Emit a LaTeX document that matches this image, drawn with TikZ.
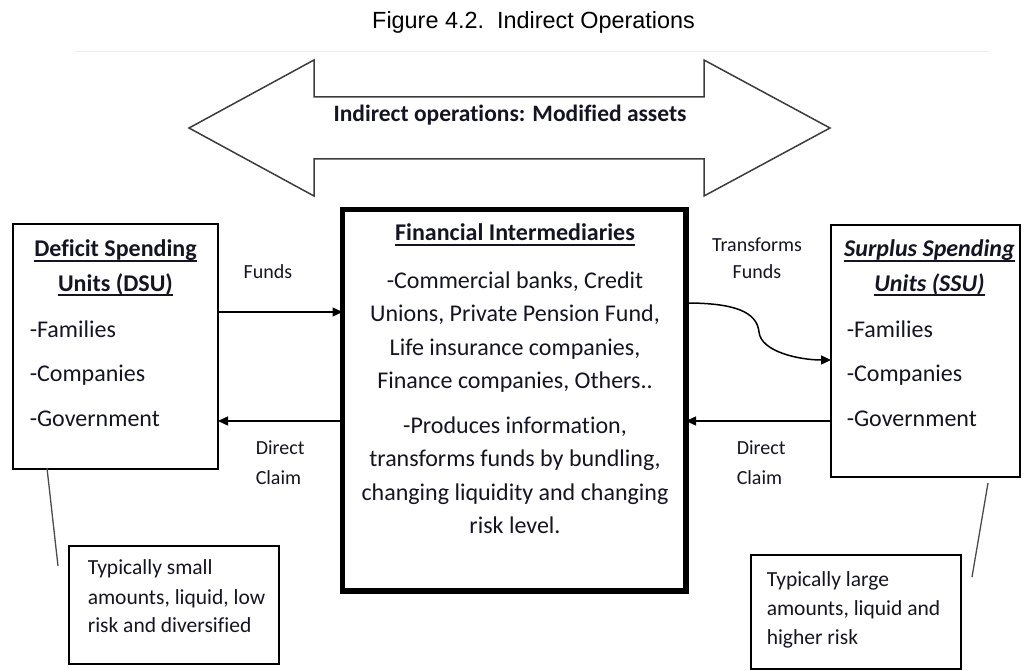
\documentclass[tikz,border=0pt]{standalone}
\usepackage{fontspec}
\setmainfont{Carlito}[Ligatures=NoCommon]
\newfontfamily\captionfont{Liberation Sans}
\usetikzlibrary{calc}
\usetikzlibrary{arrows.meta}

\definecolor{ink}{RGB}{20,20,35}
\definecolor{arrowgray}{RGB}{60,60,60}
\definecolor{rulegray}{RGB}{230,238,247}
\definecolor{calloutgray}{RGB}{75,75,75}

% heading underline, a bit heavier than \underline
\newsavebox{\ulbox}
\newcommand*{\ulhead}[1]{\sbox{\ulbox}{#1}\rlap{\rule[-4.6pt]{\wd\ulbox}{1.3pt}}\usebox{\ulbox}}

\tikzset{
    unitbox/.style  = {draw, line width = 1.5pt, inner sep = 0pt, outer sep = 0pt, anchor = north west},
    notebox/.style  = {draw, line width = 1.3pt, inner sep = 0pt, outer sep = 0pt, anchor = north west},
    txt/.style      = {inner sep = 0pt, text = ink, font = \fontsize{24}{24}\selectfont},
    headtxt/.style  = {txt, anchor = base, font = \bfseries\fontsize{24}{24}\selectfont},
    lbl/.style      = {inner sep = 0pt, text = ink, font = \fontsize{20}{20}\selectfont},
    notetxt/.style  = {inner sep = 0pt, text = ink, anchor = base west, font = \fontsize{21.5}{21.5}\selectfont},
}

\begin{document}
\begin{tikzpicture}[x = 1pt, y = -1pt, line width = 1.5pt,
                    >={Triangle[length = 10pt, width = 9pt]}]

\useasboundingbox (0,0) rectangle (1023,671);

\pgfmathsetmacro{\tipL}{189}
\pgfmathsetmacro{\tipR}{830}
\pgfmathsetmacro{\backL}{314}
\pgfmathsetmacro{\backR}{704}
\pgfmathsetmacro{\midY}{128}
\pgfmathsetmacro{\shaft}{31}
\pgfmathsetmacro{\head}{68}

% title and rule
\node[inner sep = 0pt, anchor = base, font = \captionfont\fontsize{23.4}{23.4}\selectfont]
    (title) at (533.5,29) {Figure 4.2.\ \ Indirect Operations};
\coordinate (ruleL) at (75,52);
\coordinate (ruleR) at (988,52);
\draw[rulegray, line width = 1pt] (ruleL) -- (ruleR);

% the big double arrow
\draw[arrowgray, line join = miter]
    (\tipL,\midY) -- (\backL,\midY-\head) -- (\backL,\midY-\shaft)
    -- (\backR,\midY-\shaft) -- (\backR,\midY-\head) -- (\tipR,\midY)
    -- (\backR,\midY+\head) -- (\backR,\midY+\shaft)
    -- (\backL,\midY+\shaft) -- (\backL,\midY+\head) -- cycle;
\node[txt, anchor = base, font = \bfseries\fontsize{23.5}{23.5}\selectfont]
    (ops) at (510,122) {Indirect operations: Modified assets};

% boxes
\node[unitbox, minimum width = 205pt, minimum height = 245pt] (dsu) at (13,224) {};
\node[unitbox, line width = 5.5pt, minimum width = 343.5pt, minimum height = 381.5pt] (fin) at (342.5,209.5) {};
\node[unitbox, minimum width = 189pt, minimum height = 252pt] (ssu) at (831,225) {};
\node[notebox, minimum width = 210pt, minimum height = 118pt] (dsunote) at (69,546) {};
\node[notebox, minimum width = 210pt, minimum height = 114pt] (ssunote) at (751,555) {};

% headings
\node[headtxt] (dsuh1) at (115.5,257) {\ulhead{Deficit Spending}};
\node[headtxt] (dsuh2) at (115.5,291) {\ulhead{Units (DSU)}};
\node[headtxt] (ssuh1) at (929.5,257) {\ulhead{\itshape Surplus Spending}};
\node[headtxt] (ssuh2) at (929.5,291) {\ulhead{\itshape Units (SSU)}};
\node[headtxt] (finh)  at (515,241)   {\ulhead{Financial Intermediaries}};

% unit members
\foreach \NUM/\BASE/\TEXT in {1/337/-Families, 2/381/-Companies, 3/426/-Government}{
    \node[txt, anchor = base west] (dsu-\NUM) at (29,\BASE)  {\TEXT};
    \node[txt, anchor = base west] (ssu-\NUM) at (846,\BASE) {\TEXT};
    };

% intermediaries
\foreach \NUM/\BASE/\TEXT in {
                1/288.0/{-Commercial banks, Credit},
                2/321.5/{Unions, Private Pension Fund,},
                3/355.0/{Life insurance companies,},
                4/388.5/{Finance companies, Others..},
                5/433.0/{-Produces information,},
                6/466.5/{transforms funds by bundling,},
                7/500.0/{changing liquidity and changing},
                8/533.5/{risk level.}}{
    \node[txt, anchor = base] (fin-\NUM) at (515,\BASE) {\TEXT};
    };

% flows
\draw[->] (dsu.east |- 0,312) -- (fin.west |- 0,312);
\draw[->] (fin.west |- 0,421) -- (dsu.east |- 0,421);
\draw[->] (ssu.west |- 0,421) -- (fin.east |- 0,421);
\draw[->] (fin.east |- 0,303) .. controls (735,303) and (757,312) .. (759,332)
                              .. controls (761,352) and (800,360) .. (ssu.west |- 0,360);

\node[lbl, anchor = base]      (funds)  at (268,278) {Funds};
\node[lbl, anchor = base]      (trans1) at (757,252) {Transforms};
\node[lbl, anchor = base]      (trans2) at (757,278) {Funds};
\node[lbl, anchor = base west] (claimL1) at (255,454) {Direct};
\node[lbl, anchor = base west] (claimL2) at (255,484) {Claim};
\node[lbl, anchor = base west] (claimR1) at (736,454) {Direct};
\node[lbl, anchor = base west] (claimR2) at (736,484) {Claim};

% callouts
\coordinate (dsuTail) at (47,468);
\coordinate (dsuTip)  at (58,566);
\coordinate (ssuTail) at (988,483);
\coordinate (ssuTip)  at (972,577);
\draw[calloutgray, line width = 1.3pt] (dsuTail) -- (dsuTip);
\draw[calloutgray, line width = 1.3pt] (ssuTail) -- (ssuTip);

\foreach \NUM/\BASE/\TEXT in {1/574/{Typically small}, 2/604/{amounts, liquid, low}, 3/632/{risk and diversified}}{
    \node[notetxt] (dsunote-\NUM) at (87,\BASE) {\TEXT};
    };
\foreach \NUM/\BASE/\TEXT in {1/586/{Typically large}, 2/615/{amounts, liquid and}, 3/644/{higher risk}}{
    \node[notetxt] (ssunote-\NUM) at (766,\BASE) {\TEXT};
    };

\end{tikzpicture}
\end{document}
